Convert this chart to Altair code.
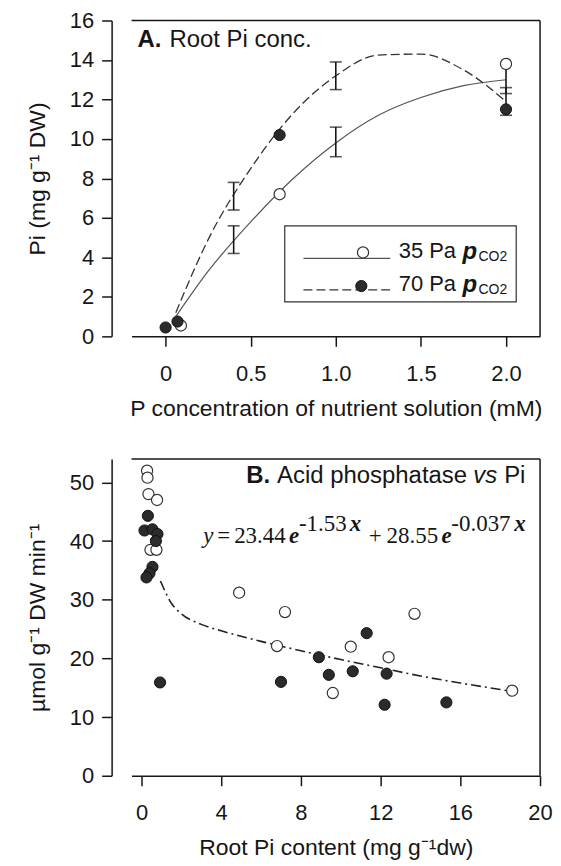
import altair as alt
import pandas as pd

# ---------------- Panel A: Root Pi conc. ----------------
a_open_x = [0.09, 0.67, 2.0]
a_open_y = [0.55, 7.2, 13.8]
a_fill_x = [0.0, 0.07, 0.67, 2.0]
a_fill_y = [0.45, 0.75, 10.2, 11.5]

a_err_x = [0.4, 1.0, 2.0]
a_err_open_lo = [4.2, 9.1, 12.3]
a_err_open_hi = [5.6, 10.6, 13.8]
a_err_fill_lo = [6.4, 12.5, 11.2]
a_err_fill_hi = [7.8, 13.9, 12.6]

a_fit_x = [0.06, 0.25, 0.5, 0.75, 1.0, 1.25, 1.5, 1.75, 2.0]
a_fit_open = [1.0, 3.3, 5.8, 8.0, 9.8, 11.2, 12.1, 12.7, 13.0]
a_fit_fill = [1.2, 4.9, 8.5, 11.3, 13.2, 14.25, 14.3, 13.5, 11.9]

a_x_ticks = [0, 0.5, 1.0, 1.5, 2.0]
a_y_ticks = [0, 2, 4, 6, 8, 10, 12, 14, 16]
a_legend_labels = ["35 Pa", "70 Pa"]

# ---------------- Panel B: Acid phosphatase vs Pi ----------------
b_open_x = [0.28, 0.3, 0.35, 0.78, 0.45, 0.75, 4.9, 7.2, 6.8, 10.5, 13.7, 12.4, 9.6, 18.6]
b_open_y = [52.0, 50.8, 48.0, 47.0, 38.5, 38.5, 31.2, 27.9, 22.1, 22.0, 27.6, 20.2, 14.1, 14.5]
b_fill_x = [0.32, 0.15, 0.55, 0.8, 0.72, 0.55, 0.4, 0.25, 0.93, 7.0, 8.9, 9.4, 10.6, 11.3, 12.3, 12.2, 15.3]
b_fill_y = [44.3, 41.8, 42.0, 41.2, 40.0, 35.6, 34.5, 33.8, 15.9, 16.0, 20.2, 17.2, 17.8, 24.3, 17.4, 12.1, 12.5]

b_fit_x = [0.95, 1.5, 2, 3, 4, 6, 8, 10, 12, 14, 16, 18, 18.7]
b_fit_y = [33.2, 29.4, 27.6, 25.8, 24.7, 22.9, 21.3, 19.8, 18.4, 17.0, 15.8, 14.7, 14.3]

b_x_ticks = [0, 4, 8, 12, 16, 20]
b_y_ticks = [0, 10, 20, 30, 40, 50]

# ---------------- layout constants ----------------
W = 410
HA = 317
HB = 318
SANS = "Liberation Sans"
SERIF = "Liberation Serif"
INK = "#161616"
SYM = 125

# ---------------- Panel A encodings ----------------
axA_x = alt.Axis(values=a_x_ticks, labelFlush=False, labelOverlap=False,
                 labelExpr="datum.value == 0 ? '0' : format(datum.value, '.1f')",
                 title="P concentration of nutrient solution (mM)")
axA_y = alt.Axis(values=a_y_ticks, offset=20, labelOverlap=False, title="Pi (mg g\u207b\u00b9 DW)")
scA_x = alt.Scale(domain=[-0.2, 2.2], nice=False, zero=False)
scA_y = alt.Scale(domain=[0, 16], nice=False, zero=False)


def XA(f):
    return alt.X(f"{f}:Q", scale=scA_x, axis=axA_x)


def YA(f):
    return alt.Y(f"{f}:Q", scale=scA_y, axis=axA_y)


one = pd.DataFrame({"k": [0]})

frameA = [
    alt.Chart(one).mark_rule(color=INK, strokeWidth=1.5).encode(x=alt.value(0), x2=alt.value(W), y=alt.value(0)),
    alt.Chart(one).mark_rule(color=INK, strokeWidth=1.5).encode(x=alt.value(W), y=alt.value(0), y2=alt.value(HA)),
]

fitA = pd.DataFrame({"x": a_fit_x, "open": a_fit_open, "fill": a_fit_fill})
lineA_open = alt.Chart(fitA).mark_line(color="#555", strokeWidth=1.2, interpolate="monotone").encode(
    x=XA("x"), y=YA("open"))
lineA_fill = alt.Chart(fitA).mark_line(color="#333", strokeWidth=1.3, strokeDash=[9, 4],
                                        interpolate="monotone").encode(x=XA("x"), y=YA("fill"))

errA = pd.DataFrame({"x": a_err_x * 2,
                     "lo": a_err_open_lo + a_err_fill_lo,
                     "hi": a_err_open_hi + a_err_fill_hi})
errA_rule = alt.Chart(errA).mark_rule(color=INK, strokeWidth=1.6).encode(
    x=XA("x"), y=YA("lo"), y2=alt.Y2("hi:Q"))
errA_lo = alt.Chart(errA).mark_tick(color=INK, orient="horizontal", size=12, thickness=1.6).encode(
    x=XA("x"), y=YA("lo"))
errA_hi = alt.Chart(errA).mark_tick(color=INK, orient="horizontal", size=12, thickness=1.6).encode(
    x=XA("x"), y=YA("hi"))

ptsA_open = alt.Chart(pd.DataFrame({"x": a_open_x, "y": a_open_y})).mark_point(
    shape="circle", filled=True, fill="white", stroke="#333", strokeWidth=1.2, size=SYM, opacity=1).encode(
    x=XA("x"), y=YA("y"))
ptsA_fill = alt.Chart(pd.DataFrame({"x": a_fill_x, "y": a_fill_y})).mark_point(
    shape="circle", filled=True, fill="#2b2b2b", stroke="#111", strokeWidth=1, size=SYM, opacity=1).encode(
    x=XA("x"), y=YA("y"))

# legend (drawn in data units of panel A)
legbox = alt.Chart(pd.DataFrame({"x": [0.70], "x2": [2.06], "y": [1.75], "y2": [5.6]})).mark_rect(
    fill="white", stroke="#333", strokeWidth=1.2).encode(x=XA("x"), x2="x2:Q", y=YA("y"), y2="y2:Q")
leg_line_open = alt.Chart(pd.DataFrame({"x": [0.81], "x2": [1.32], "y": [3.95]})).mark_rule(
    color="#555", strokeWidth=1.2).encode(x=XA("x"), x2="x2:Q", y=YA("y"))
leg_line_fill = alt.Chart(pd.DataFrame({"x": [0.81], "x2": [1.32], "y": [2.35]})).mark_rule(
    color="#333", strokeWidth=1.3, strokeDash=[9, 4]).encode(x=XA("x"), x2="x2:Q", y=YA("y"))
leg_sym_open = alt.Chart(pd.DataFrame({"x": [1.16], "y": [4.25]})).mark_point(
    shape="circle", filled=True, fill="white", stroke="#333", strokeWidth=1.2, size=SYM, opacity=1).encode(
    x=XA("x"), y=YA("y"))
leg_sym_fill = alt.Chart(pd.DataFrame({"x": [1.15], "y": [2.55]})).mark_point(
    shape="circle", filled=True, fill="#2b2b2b", stroke="#111", strokeWidth=1, size=SYM, opacity=1).encode(
    x=XA("x"), y=YA("y"))

legtxt = pd.DataFrame({"x": [1.37, 1.37], "y": [4.3, 2.65], "t": a_legend_labels,
                       "p": ["p", "p"], "s": ["CO2", "CO2"]})
leg_t1 = alt.Chart(legtxt).mark_text(align="left", baseline="middle", font=SANS, fontSize=22, color=INK).encode(
    x=XA("x"), y=YA("y"), text="t:N")
leg_t2 = alt.Chart(legtxt).mark_text(align="left", baseline="middle", font=SANS, fontSize=24, fontWeight="bold",
                                     fontStyle="italic", color=INK, dx=64, dy=1).encode(
    x=XA("x"), y=YA("y"), text="p:N")
leg_t3 = alt.Chart(legtxt).mark_text(align="left", baseline="middle", font=SANS, fontSize=14, color=INK,
                                     dx=80, dy=6).encode(x=XA("x"), y=YA("y"), text="s:N")

titA = pd.DataFrame({"x": [-0.165], "y": [15.0], "a": ["A."], "b": ["Root Pi conc."]})
titA_1 = alt.Chart(titA).mark_text(align="left", baseline="middle", font=SANS, fontSize=24, fontWeight="bold",
                                   color=INK).encode(x=XA("x"), y=YA("y"), text="a:N")
titA_2 = alt.Chart(titA).mark_text(align="left", baseline="middle", font=SANS, fontSize=24, color=INK,
                                   dx=32).encode(x=XA("x"), y=YA("y"), text="b:N")

panelA = alt.layer(
    *frameA, lineA_open, lineA_fill, errA_rule, errA_lo, errA_hi, ptsA_open, ptsA_fill,
    legbox, leg_line_open, leg_line_fill, leg_sym_open, leg_sym_fill, leg_t1, leg_t2, leg_t3,
    titA_1, titA_2
).properties(width=W, height=HA)

# ---------------- Panel B encodings ----------------
axB_x = alt.Axis(values=b_x_ticks, labelFlush=False, labelOverlap=False,
                 title="Root Pi content (mg g\u207b\u00b9dw)")
axB_y = alt.Axis(values=b_y_ticks, offset=20, labelOverlap=False, title="\u00b5mol g\u207b\u00b9 DW min\u207b\u00b9")
scB_x = alt.Scale(domain=[-0.5, 20], nice=False, zero=False)
scB_y = alt.Scale(domain=[0, 54], nice=False, zero=False)


def XB(f):
    return alt.X(f"{f}:Q", scale=scB_x, axis=axB_x)


def YB(f):
    return alt.Y(f"{f}:Q", scale=scB_y, axis=axB_y)


frameB = [
    alt.Chart(one).mark_rule(color=INK, strokeWidth=1.5).encode(x=alt.value(0), x2=alt.value(W), y=alt.value(0)),
    alt.Chart(one).mark_rule(color=INK, strokeWidth=1.5).encode(x=alt.value(W), y=alt.value(0), y2=alt.value(HB)),
]

lineB = alt.Chart(pd.DataFrame({"x": b_fit_x, "y": b_fit_y})).mark_line(
    color="#222", strokeWidth=1.6, strokeDash=[10, 4, 2, 4], interpolate="monotone").encode(
    x=XB("x"), y=YB("y"))
ptsB_open = alt.Chart(pd.DataFrame({"x": b_open_x, "y": b_open_y})).mark_point(
    shape="circle", filled=True, fill="white", stroke="#333", strokeWidth=1.2, size=SYM, opacity=1).encode(
    x=XB("x"), y=YB("y"))
ptsB_fill = alt.Chart(pd.DataFrame({"x": b_fill_x, "y": b_fill_y})).mark_point(
    shape="circle", filled=True, fill="#2b2b2b", stroke="#111", strokeWidth=1, size=SYM, opacity=1).encode(
    x=XB("x"), y=YB("y"))

titB = pd.DataFrame({"x": [5.25], "y": [51.1], "a": ["B."], "b": ["Acid phosphatase"], "c": ["vs"], "d": ["Pi"]})
titB_layers = [
    alt.Chart(titB).mark_text(align="left", baseline="middle", font=SANS, fontSize=24, fontWeight="bold",
                              color=INK).encode(x=XB("x"), y=YB("y"), text="a:N"),
    alt.Chart(titB).mark_text(align="left", baseline="middle", font=SANS, fontSize=24, color=INK,
                              dx=31).encode(x=XB("x"), y=YB("y"), text="b:N"),
    alt.Chart(titB).mark_text(align="left", baseline="middle", font=SANS, fontSize=24, fontStyle="italic",
                              color=INK, dx=228).encode(x=XB("x"), y=YB("y"), text="c:N"),
    alt.Chart(titB).mark_text(align="left", baseline="middle", font=SANS, fontSize=24, color=INK,
                              dx=259).encode(x=XB("x"), y=YB("y"), text="d:N"),
]

eq_parts = ["y", "=", "23.44", "e", "-1.53", "x", "+", "28.55", "e", "-0.037", "x"]
eq_dx = [0, 14, 31, 86, 96, 147, 166, 184, 239, 249, 312]
eq_dy = [0, 0, 0, 0, -12, -12, 0, 0, 0, -12, -12]
eq_italic = [True, False, False, True, False, True, False, False, True, False, True]
eq_layers = []
for part, dx, dy, it in zip(eq_parts, eq_dx, eq_dy, eq_italic):
    d = pd.DataFrame({"x": [3.1], "y": [40.9], "t": [part]})
    kw = dict(align="left", baseline="middle", font=SERIF, fontSize=23, color=INK, dx=dx, dy=dy)
    if it:
        kw["fontStyle"] = "italic"
        if part in ("x", "e"):
            kw["fontWeight"] = "bold"
    eq_layers.append(alt.Chart(d).mark_text(**kw).encode(x=XB("x"), y=YB("y"), text="t:N"))

panelB = alt.layer(
    *frameB, lineB, ptsB_open, ptsB_fill, *titB_layers, *eq_layers
).properties(width=W, height=HB)

chart = alt.vconcat(panelA, panelB, spacing=38).properties(
    padding={"left": 18, "top": 0, "right": 0, "bottom": 0}
).configure_view(stroke=None).configure_axis(
    grid=False, domainColor=INK, domainWidth=1.5, tickColor=INK, tickWidth=1.5, tickSize=10,
    labelFont=SANS, labelFontSize=22, labelColor=INK, labelPadding=8,
    titleFont=SANS, titleFontSize=23, titleFontWeight="normal", titleColor=INK
).configure_axisX(titlePadding=13, labelPadding=17).configure_axisY(titlePadding=20)

chart.save("out.html", embed_options={"renderer": "svg", "actions": False})
